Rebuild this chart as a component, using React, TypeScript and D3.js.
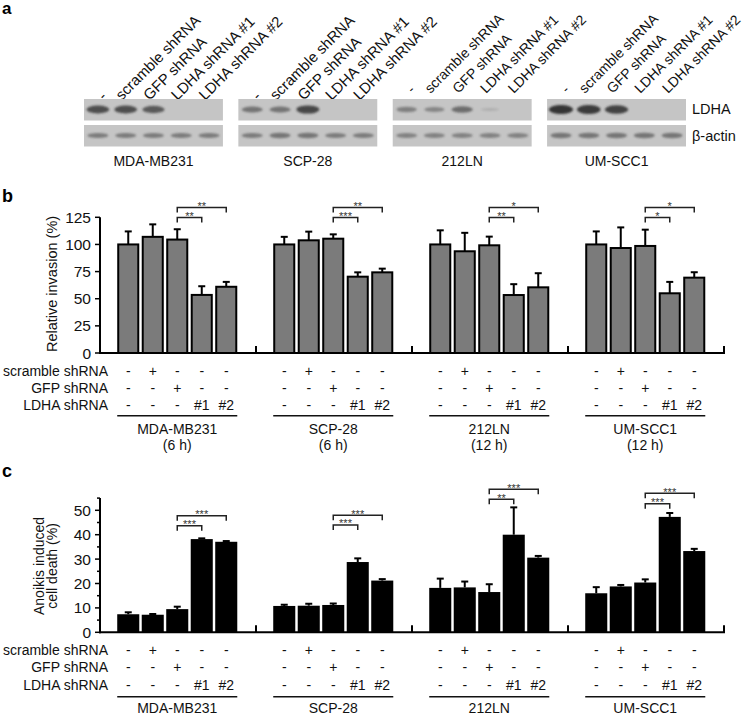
import React from "react";
import * as d3 from "d3";

// ---------- data ----------
const cellLines = ["MDA-MB231", "SCP-28", "212LN", "UM-SCC1"];
const timePoints = ["(6 h)", "(6 h)", "(12 h)", "(12 h)"];
const laneLabels = ["-", "scramble shRNA", "GFP shRNA", "LDHA shRNA #1", "LDHA shRNA #2"];
const rowLabels = ["scramble shRNA", "GFP shRNA", "LDHA shRNA"];
const scrambleRow = ["-", "+", "-", "-", "-"];
const gfpRow = ["-", "-", "+", "-", "-"];
const ldhaRow = ["-", "-", "-", "#1", "#2"];

// western blot band intensities (0..1)
const ldhaBandMDA = [0.8, 0.8, 0.7, 0, 0];
const ldhaBandSCP = [0.5, 0.5, 0.85, 0, 0];
const ldhaBand212 = [0.4, 0.35, 0.55, 0.03, 0];
const ldhaBandUM = [1, 0.95, 0.9, 0, 0];
const actinBandMDA = [0.45, 0.45, 0.45, 0.45, 0.45];
const actinBandSCP = [0.45, 0.5, 0.5, 0.45, 0.45];
const actinBand212 = [0.4, 0.4, 0.4, 0.4, 0.4];
const actinBandUM = [0.5, 0.5, 0.5, 0.5, 0.5];

// panel b: relative invasion (%)
const invasionMDA = [100, 107, 104.5, 53.5, 61];
const invasionSCP = [100, 103.8, 105.3, 70.3, 74.3];
const invasion212 = [100, 93.7, 99.2, 53.4, 60.5];
const invasionUM = [100, 96.7, 98.6, 55, 69.4];
const invasionErrMDA = [12, 11.5, 9.5, 8, 4.5];
const invasionErrSCP = [7, 8, 4, 4, 3.4];
const invasionErr212 = [13, 17, 8, 10, 13];
const invasionErrUM = [12, 19, 15, 10.5, 5];
const invasionTicks = [0, 25, 50, 75, 100, 125];
const invasionSigInner = ["**", "***", "**", "*"];
const invasionSigOuter = ["**", "**", "*", "*"];
const invasionBracketInner = [124.8, 124.8, 124.8, 124.8];
const invasionBracketOuter = [134, 134, 134, 134];

// panel c: anoikis induced cell death (%)
const anoikisMDA = [7.4, 7.2, 9.5, 38.2, 37.1];
const anoikisSCP = [10.8, 10.9, 11.2, 28.8, 21.2];
const anoikis212 = [18.2, 18.4, 16.5, 40, 30.6];
const anoikisUM = [16, 18.8, 20.4, 47.3, 33.3];
const anoikisErrMDA = [0.8, 0.3, 1.0, 0.3, 0.3];
const anoikisErrSCP = [0.5, 0.8, 0.6, 1.5, 0.6];
const anoikisErr212 = [3.8, 2.4, 3.2, 11.2, 0.7];
const anoikisErrUM = [2.5, 0.6, 1.3, 1.6, 0.9];
const anoikisTicks = [0, 10, 20, 30, 40, 50];
const anoikisMinorTicks = [5, 15, 25, 35, 45, 55];
const anoikisSigInner = ["***", "***", "**", "***"];
const anoikisSigOuter = ["***", "***", "***", "***"];
const anoikisBracketInner = [43.7, 44, 54.5, 52.7];
const anoikisBracketOuter = [47.8, 48, 58.6, 57];

const FONT = "'Liberation Sans', Arial, Helvetica, sans-serif";

const ldhaBands = [ldhaBandMDA, ldhaBandSCP, ldhaBand212, ldhaBandUM];
const actinBands = [actinBandMDA, actinBandSCP, actinBand212, actinBandUM];
const invasion = [invasionMDA, invasionSCP, invasion212, invasionUM];
const invasionErr = [invasionErrMDA, invasionErrSCP, invasionErr212, invasionErrUM];
const anoikis = [anoikisMDA, anoikisSCP, anoikis212, anoikisUM];
const anoikisErr = [anoikisErrMDA, anoikisErrSCP, anoikisErr212, anoikisErrUM];

const lanes = d3.range(5);

// ---------- scales ----------
const xBlot = d3.scaleBand<string>().domain(cellLines).range([84, 686]).paddingInner(0.1);
const xLane = d3.scaleBand<number>().domain(lanes).range([0, xBlot.bandwidth()]);

const xGroup = d3.scaleBand<string>().domain(cellLines).range([100, 724]);
const xBar = d3.scaleBand<number>().domain(lanes).range([16, 138.5]).paddingInner(0.1).paddingOuter(0.05);
const barCenter = (g: string, i: number) => (xGroup(g) as number) + (xBar(i) as number) + xBar.bandwidth() / 2;

const yB = d3.scaleLinear().domain([0, 125]).range([353, 217.3]);
const yC = d3.scaleLinear().domain([0, 50]).range([632.3, 510.3]);

function Blots() {
  return (
    <g>
      <defs>
        <filter id="bandBlur" x="-50%" y="-150%" width="200%" height="400%">
          <feGaussianBlur stdDeviation="1.2" />
        </filter>
      </defs>
      {cellLines.map((c, gi) => {
        const x0 = xBlot(c) as number;
        const w = xBlot.bandwidth();
        const labelY = gi < 2 ? 101 : 94;
        const fs = gi < 2 ? 15 : 14;
        return (
          <g key={c}>
            {laneLabels.map((l, li) => {
              const lx = x0 + (xLane(li) as number) + xLane.bandwidth() / 2 + (li === 0 ? 6 : -4);
              return (
                <text key={li} x={lx} y={labelY} transform={`rotate(-45 ${lx} ${labelY})`}
                  fontFamily={FONT} fontSize={fs} fill="#111">{l}</text>
              );
            })}
            <rect x={x0} y={99} width={w} height={21.5} fill="#c5c5c5" />
            <rect x={x0} y={125} width={w} height={21.5} fill="#c5c5c5" />
            {ldhaBands[gi].map((v, li) => v > 0 ? (
              <ellipse key={"l" + li} cx={x0 + (xLane(li) as number) + xLane.bandwidth() / 2} cy={109.5}
                rx={9 + 3 * v} ry={1.4 + 3.2 * v} fill="#2e2e2e" opacity={0.12 + 0.83 * v}
                filter="url(#bandBlur)" />
            ) : null)}
            {actinBands[gi].map((v, li) => (
              <ellipse key={"a" + li} cx={x0 + (xLane(li) as number) + xLane.bandwidth() / 2} cy={135.5}
                rx={10.5} ry={1.2 + 3 * v} fill="#333" opacity={0.12 + 0.83 * v}
                filter="url(#bandBlur)" />
            ))}
            <text x={x0 + w / 2} y={166} textAnchor="middle" fontFamily={FONT} fontSize={14} fill="#111">{c}</text>
          </g>
        );
      })}
      <text x={692} y={113.5} fontFamily={FONT} fontSize={14.5} fill="#111">LDHA</text>
      <text x={692} y={141} fontFamily={FONT} fontSize={14.5} fill="#111">β-actin</text>
    </g>
  );
}

function Bracket({ x1, x2, y, label }: { x1: number; x2: number; y: number; label: string }) {
  return (
    <g>
      <path d={`M${x1},${y + 5}V${y}H${x2}V${y + 5}`} fill="none" stroke="#222" strokeWidth={1.5} />
      <text x={(x1 + x2) / 2} y={y + 2.5} textAnchor="middle" fontFamily={FONT} fontSize={11} fill="#333">{label}</text>
    </g>
  );
}

function BarPanel({ values, errs, y, ticks, minor, fill, outlined, sigInner, sigOuter, brInner, brOuter,
  axisTop, rowBase, underlineY, groupLabelY, showTime }: any) {
  const y0 = y(0);
  return (
    <g>
      {cellLines.map((c, gi) => (
        <g key={c}>
          {lanes.map((li) => {
            const bx = (xGroup(c) as number) + (xBar(li) as number);
            const bw = xBar.bandwidth();
            const v = values[gi][li];
            const e = errs[gi][li];
            const cx = bx + bw / 2;
            return (
              <g key={li}>
                <line x1={cx} x2={cx} y1={y(v)} y2={y(v + e)} stroke="#000" strokeWidth={2} />
                <line x1={cx - 3.5} x2={cx + 3.5} y1={y(v + e)} y2={y(v + e)} stroke="#000" strokeWidth={2} />
                {outlined ? (
                  <rect x={bx + 1} y={y(v)} width={bw - 2} height={y0 - y(v)} fill={fill} stroke="#000" strokeWidth={2} />
                ) : (
                  <rect x={bx} y={y(v)} width={bw} height={y0 - y(v)} fill={fill} />
                )}
              </g>
            );
          })}
          <Bracket x1={barCenter(c, 2)} x2={barCenter(c, 3)} y={y(brInner[gi])} label={sigInner[gi]} />
          <Bracket x1={barCenter(c, 2)} x2={barCenter(c, 4)} y={y(brOuter[gi])} label={sigOuter[gi]} />
          {[scrambleRow, gfpRow, ldhaRow].map((row, ri) => row.map((s: string, li: number) => (
            <text key={ri + "-" + li} x={barCenter(c, li)} y={rowBase[ri]} textAnchor="middle"
              fontFamily={FONT} fontSize={14} fill="#111">{s}</text>
          )))}
          <line x1={(xGroup(c) as number) + (xBar(0) as number)} x2={(xGroup(c) as number) + (xBar(4) as number) + xBar.bandwidth()}
            y1={underlineY} y2={underlineY} stroke="#111" strokeWidth={1.5} />
          <text x={barCenter(c, 2)} y={groupLabelY} textAnchor="middle" fontFamily={FONT} fontSize={14} fill="#111">{c}</text>
          {showTime ? (
            <text x={barCenter(c, 2)} y={groupLabelY + 16} textAnchor="middle" fontFamily={FONT} fontSize={14} fill="#111">{timePoints[gi]}</text>
          ) : null}
          <line x1={(xGroup(c) as number) + xGroup.step()} x2={(xGroup(c) as number) + xGroup.step()}
            y1={y0} y2={y0 - 7} stroke="#000" strokeWidth={2} />
        </g>
      ))}
      {/* axes */}
      <line x1={100} x2={100} y1={y0 + 1} y2={y(axisTop)} stroke="#000" strokeWidth={2} />
      <line x1={99} x2={725} y1={y0} y2={y0} stroke="#000" strokeWidth={2} />
      {ticks.map((t: number) => (
        <g key={t}>
          <line x1={95} x2={100} y1={y(t)} y2={y(t)} stroke="#000" strokeWidth={1.5} />
          <text x={91} y={y(t) + 5.5} textAnchor="end" fontFamily={FONT} fontSize={15.5} fill="#111">{t}</text>
        </g>
      ))}
      {minor.map((t: number) => (
        <line key={"m" + t} x1={97} x2={100} y1={y(t)} y2={y(t)} stroke="#000" strokeWidth={1.5} />
      ))}
      {rowLabels.map((r, ri) => (
        <text key={r} x={108} y={rowBase[ri]} textAnchor="end" fontFamily={FONT} fontSize={14} fill="#111">{r}</text>
      ))}
    </g>
  );
}

export default function App() {
  return (
    <svg width={747} height={715} viewBox="0 0 747 715"
      style={{ position: "absolute", left: 0, top: 0, background: "#fff" }}>
      <rect width={747} height={715} fill="#fff" />
      <text x={2} y={14} fontFamily={FONT} fontSize={17} fontWeight="bold" fill="#000">a</text>
      <text x={2} y={201.5} fontFamily={FONT} fontSize={18} fontWeight="bold" fill="#000">b</text>
      <text x={2} y={476.5} fontFamily={FONT} fontSize={18} fontWeight="bold" fill="#000">c</text>
      <Blots />
      <BarPanel values={invasion} errs={invasionErr} y={yB} ticks={invasionTicks} minor={[]}
        fill="#7b7b7b" outlined={true} sigInner={invasionSigInner} sigOuter={invasionSigOuter}
        brInner={invasionBracketInner} brOuter={invasionBracketOuter} axisTop={125}
        rowBase={[375.5, 393, 410]} underlineY={415.7} groupLabelY={434} showTime={true} />
      <text transform="translate(57,284) rotate(-90)" textAnchor="middle" fontFamily={FONT} fontSize={14.5} fill="#111">Relative invasion (%)</text>
      <BarPanel values={anoikis} errs={anoikisErr} y={yC} ticks={anoikisTicks} minor={anoikisMinorTicks}
        fill="#000" outlined={false} sigInner={anoikisSigInner} sigOuter={anoikisSigOuter}
        brInner={anoikisBracketInner} brOuter={anoikisBracketOuter} axisTop={55}
        rowBase={[655, 672, 689.5]} underlineY={696.7} groupLabelY={713} showTime={false} />
      <text transform="translate(43.5,566) rotate(-90)" textAnchor="middle" fontFamily={FONT} fontSize={14} fill="#111">Anoikis induced</text>
      <text transform="translate(57,566) rotate(-90)" textAnchor="middle" fontFamily={FONT} fontSize={14} fill="#111">cell death (%)</text>
    </svg>
  );
}
